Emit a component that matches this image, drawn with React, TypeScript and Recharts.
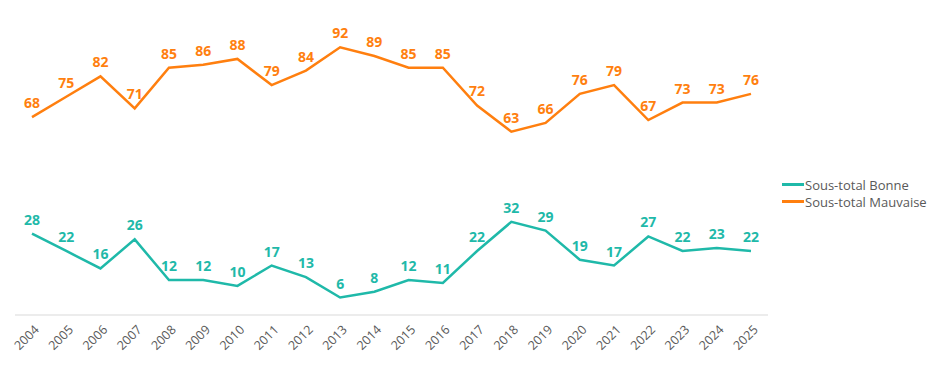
import { LineChart, Line, XAxis, YAxis, LabelList } from "recharts";

const years = [
  "2004", "2005", "2006", "2007", "2008", "2009", "2010", "2011", "2012", "2013", "2014",
  "2015", "2016", "2017", "2018", "2019", "2020", "2021", "2022", "2023", "2024", "2025",
];
const mauvaise = [68, 75, 82, 71, 85, 86, 88, 79, 84, 92, 89, 85, 85, 72, 63, 66, 76, 79, 67, 73, 73, 76];
const bonne = [28, 22, 16, 26, 12, 12, 10, 17, 13, 6, 8, 12, 11, 22, 32, 29, 19, 17, 27, 22, 23, 22];

const ORANGE = "#FF7F0F";
const TEAL = "#1FB9A9";
const FONT = "'Open Sans', sans-serif";

const data = years.map((y, i) => ({ year: y, bonne: bonne[i], mauvaise: mauvaise[i] }));

function YearTick({ x, y, payload }: any) {
  return (
    <g transform={`translate(${x},${y})`}>
      <text x={3} y={0} dy={8} textAnchor="end" transform="rotate(-45)"
        fill="#595959" fontSize={12.5} fontFamily={FONT}>
        {payload.value}
      </text>
    </g>
  );
}

const legendItems = [
  { name: "Sous-total Bonne", color: TEAL },
  { name: "Sous-total Mauvaise", color: ORANGE },
];

export default function App() {
  return (
    <div style={{ position: "absolute", left: 0, top: 0, width: 940, height: 367, background: "#fff" }}>
      <LineChart width={940} height={367} data={data} margin={{ top: 24, right: 172, left: 15, bottom: 0 }}>
        <XAxis dataKey="year" height={52} tickLine={false} stroke="#D9D9D9" interval={0}
          padding={{ left: 17, right: 17 }} tick={<YearTick />} tickMargin={6} />
        <YAxis hide domain={[0, 100]} />
        <Line dataKey="bonne" name="Sous-total Bonne" stroke={TEAL} strokeWidth={2.5} dot={false} isAnimationActive={false}>
          <LabelList dataKey="bonne" position="top" offset={9} fill={TEAL} fontSize={14} fontWeight="bold" fontFamily={FONT} />
        </Line>
        <Line dataKey="mauvaise" name="Sous-total Mauvaise" stroke={ORANGE} strokeWidth={2.5} dot={false} isAnimationActive={false}>
          <LabelList dataKey="mauvaise" position="top" offset={9} fill={ORANGE} fontSize={14} fontWeight="bold" fontFamily={FONT} />
        </Line>
      </LineChart>
      <div style={{ position: "absolute", left: 782, top: 176, fontFamily: FONT, fontSize: 13, color: "#595959" }}>
        {legendItems.map((it) => (
          <div key={it.name} style={{ display: "flex", alignItems: "center", height: 17 }}>
            <span style={{ display: "inline-block", width: 22, height: 3, background: it.color, marginRight: 1 }} />
            {it.name}
          </div>
        ))}
      </div>
    </div>
  );
}
